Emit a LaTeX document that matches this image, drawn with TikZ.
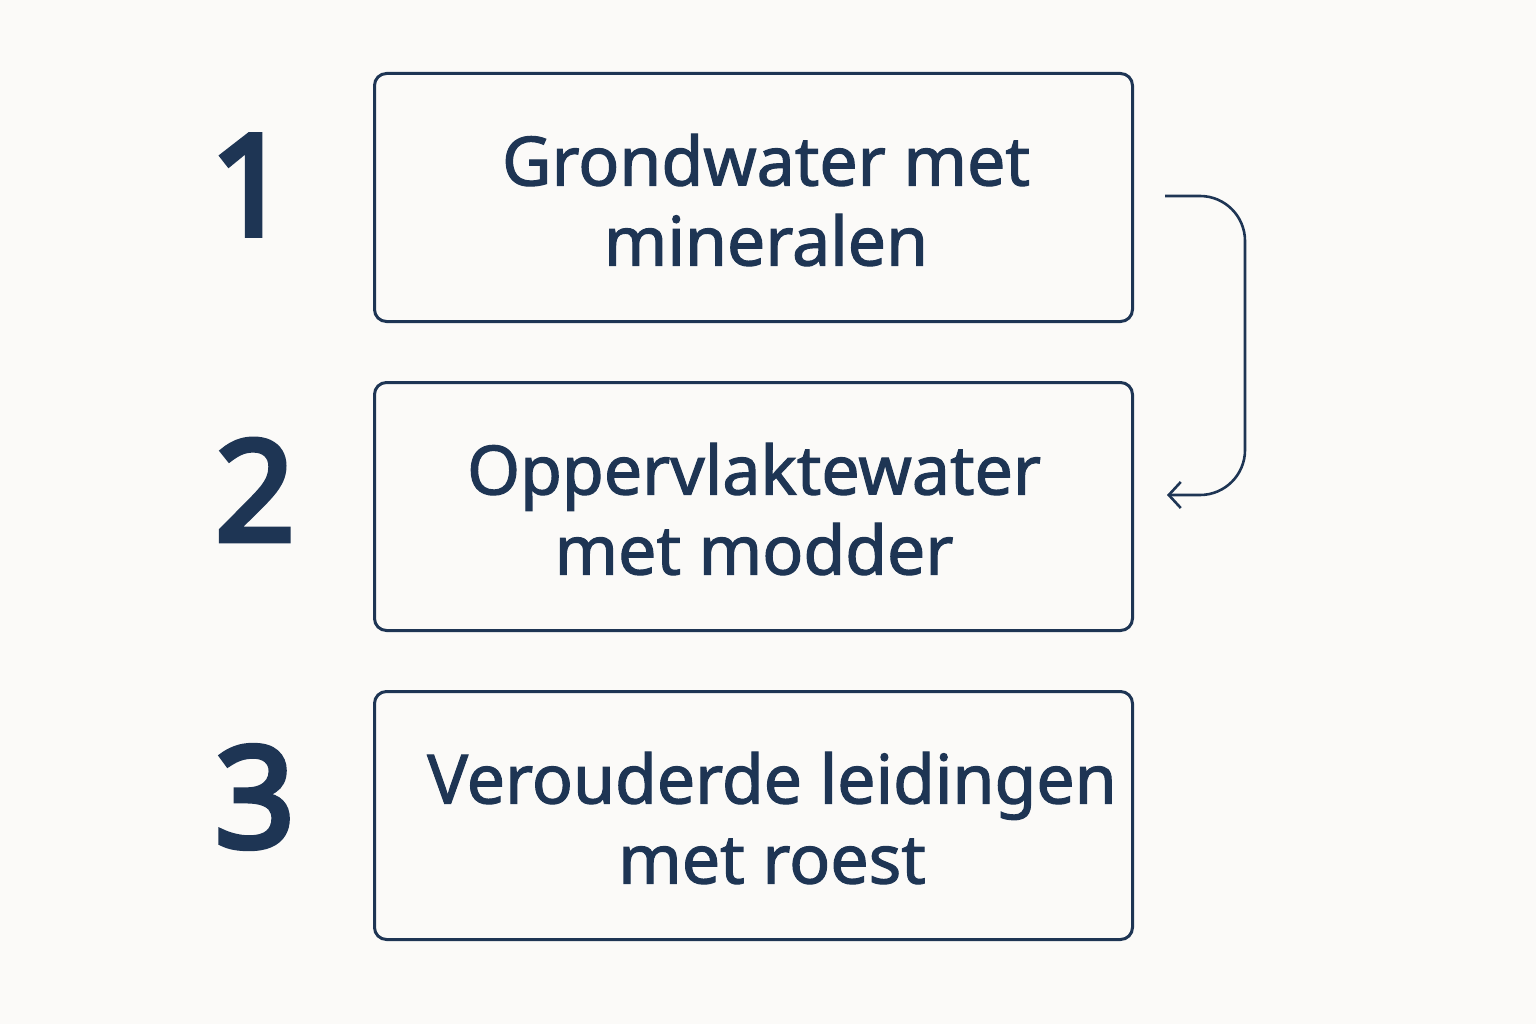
\documentclass[tikz,border=0pt]{standalone}
\usepackage{fontspec}
\setmainfont{Noto Sans}
\usetikzlibrary{arrows.meta}
\definecolor{navy}{HTML}{1E3554}
\definecolor{bg}{HTML}{FBFAF8}
\begin{document}
\begin{tikzpicture}[x=1pt,y=-1pt,
  box/.style={draw=navy,line width=3pt,rounded corners=12pt,minimum width=758pt,minimum height=248pt,anchor=north west,inner sep=0pt},
  label/.style={text=navy,align=center,font=\fontsize{68}{80}\selectfont\addfontfeature{FakeBold=1.6}},
  num/.style={text=navy,font=\fontsize{140}{140}\selectfont\addfontfeature{FakeBold=4}}]
\fill[bg] (0,0) rectangle (1536,1024);
\useasboundingbox (0,0) rectangle (1536,1024);
\node[box] (b1) at (373,72) {};
\node[box] (b2) at (373,381) {};
\node[box] (b3) at (373,690) {};
\node[label] (t1) at (766,200) {Grondwater met\\mineralen};
\node[label] (t2) at (754,509) {Oppervlaktewater\\met modder};
\node[label] (t3) at (772,818) {Verouderde leidingen\\met roest};
\node[num] (n1) at (250,185) {1};
\node[num] (n2) at (255,490) {2};
\node[num] (n3) at (255,797) {3};
\coordinate (s) at (1165,196);
\coordinate (e) at (1167,495);
\draw[navy,line width=2.6pt,rounded corners=45pt,-{Straight Barb[length=12pt,width=26pt,line width=2.6pt]}]
  (s) -- (1245,196) -- (1245,495) -- (e);
\end{tikzpicture}
\end{document}
